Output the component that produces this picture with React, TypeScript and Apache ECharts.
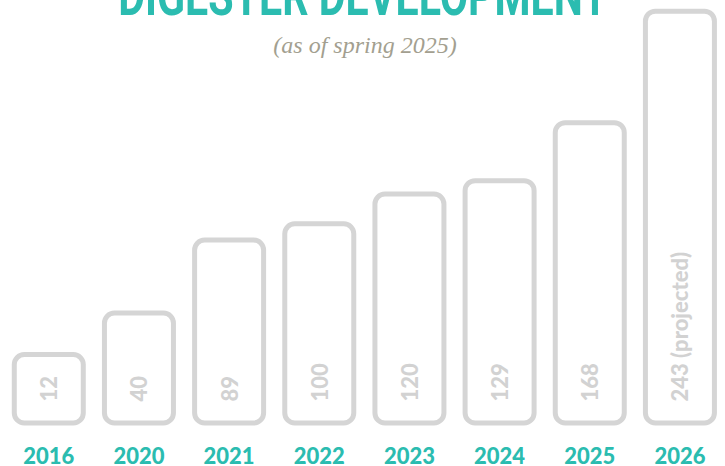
import React, { useEffect, useRef } from "react";
import * as echarts from "echarts";

const years = ["2016", "2020", "2021", "2022", "2023", "2024", "2025", "2026"];
const digesters = [12, 40, 89, 100, 120, 129, 168, 243];
const labelSuffix = ["", "", "", "", "", "", "", " (projected)"];
const axisMin = -34;
const axisMax = 248;

const TEAL = "#2bbcb0";
const GRAY = "#d5d5d5";
const LABEL_GRAY = "#d2d2d2";

export default function App() {
  const ref = useRef<HTMLDivElement>(null);
  useEffect(() => {
    if (!ref.current) return;
    const chart = echarts.init(ref.current, null, { renderer: "svg" });
    const data = years.map((y, i) => [i, digesters[i], i]);
    chart.setOption({
      animation: false,
      backgroundColor: "#ffffff",
      grid: { left: 3.7, right: -3.3, top: 3.7, bottom: 41.5 },
      xAxis: {
        type: "category",
        data: years,
        axisLine: { show: false },
        axisTick: { show: false },
        axisLabel: {
          color: TEAL,
          fontFamily: "Lato",
          fontWeight: 900,
          fontSize: 22,
          lineHeight: 18,
          verticalAlign: "middle",
          margin: 32,
        },
      },
      yAxis: {
        type: "value",
        min: axisMin,
        max: axisMax,
        show: false,
        splitLine: { show: false },
      },
      graphic: [
        {
          type: "text",
          x: 363,
          y: -4,
          scaleX: 0.735,
          style: {
            text: "DIGESTER DEVELOPMENT",
            fill: TEAL,
            font: "bold 56px Roboto",
            align: "center",
            verticalAlign: "middle",
          },
        },
        {
          type: "text",
          x: 365,
          y: 45,
          style: {
            text: "(as of spring 2025)",
            fill: "#a39f90",
            font: "italic 24px 'Liberation Serif'",
            align: "center",
            verticalAlign: "middle",
          },
        },
      ],
      series: [
        {
          type: "custom",
          encode: { x: 0, y: 1 },
          data,
          renderItem: (params: any, api: any) => {
            const idx = api.value(2);
            const top = api.coord([api.value(0), api.value(1)]);
            const base = api.coord([api.value(0), axisMin]);
            const w = 69;
            return {
              type: "group",
              children: [
                {
                  type: "rect",
                  shape: {
                    x: top[0] - w / 2,
                    y: top[1],
                    width: w,
                    height: base[1] - top[1],
                    r: 10,
                  },
                  style: { fill: "#ffffff", stroke: GRAY, lineWidth: 5 },
                },
                {
                  type: "text",
                  x: top[0],
                  y: base[1] - 21.5,
                  rotation: Math.PI / 2,
                  style: {
                    text: String(digesters[idx]) + labelSuffix[idx],
                    fill: LABEL_GRAY,
                    font: "900 22px Lato",
                    align: "left",
                    verticalAlign: "middle",
                  },
                },
              ],
            };
          },
        },
      ],
    });
    return () => chart.dispose();
  }, []);
  return (
    <div
      ref={ref}
      style={{ position: "fixed", left: 0, top: 0, width: 725, height: 466 }}
    />
  );
}
